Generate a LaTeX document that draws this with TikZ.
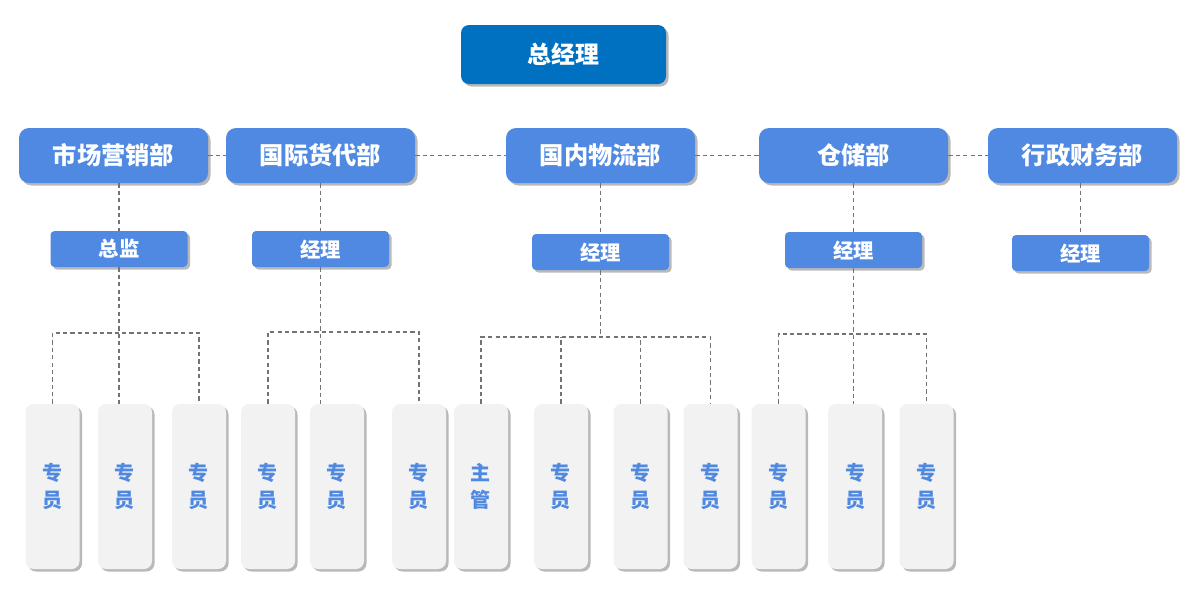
\documentclass[tikz,border=0pt]{standalone}
\usepackage{fontspec}
\usepackage{xcolor}
\usetikzlibrary{shadows}
\newfontfamily\cjk{Noto Sans CJK SC}
\definecolor{bossblue}{RGB}{0,112,192}
\definecolor{deptblue}{RGB}{80,137,225}
\definecolor{staffgray}{RGB}{242,242,242}

\begin{document}
\begin{tikzpicture}[
  shade/.style={drop shadow={shadow xshift=0.05cm, shadow yshift=-0.05cm, fill=black!50, opacity=0.55}},
  boss/.style={rectangle, rounded corners=0.16cm, fill=bossblue, text=white, minimum width=4.1cm, minimum height=1.18cm, font=\cjk\bfseries\fontsize{13.6}{16}\selectfont, shade},
  dept/.style={rectangle, rounded corners=0.2cm, fill=deptblue, text=white, minimum width=3.78cm, minimum height=1.1cm, font=\cjk\bfseries\fontsize{13.8}{16}\selectfont, shade},
  head/.style={rectangle, rounded corners=0.08cm, fill=deptblue, text=white, minimum width=2.74cm, minimum height=0.72cm, font=\cjk\bfseries\fontsize{11.6}{14}\selectfont, shade},
  staff/.style={rectangle, rounded corners=0.16cm, fill=staffgray, text=deptblue, minimum width=1.08cm, minimum height=3.3cm, align=center, font=\cjk\bfseries\fontsize{11.4}{15.4}\selectfont, shade},
  link/.style={draw=black!55, line width=0.6pt, dash pattern=on 2.4pt off 1.8pt}
]
\useasboundingbox (0,0) rectangle (24,-12);

\node[boss] (gm) at (11.27,-1.09) {总经理};

\node[dept] (d1) at (2.27,-3.11) {市场营销部};
\node[dept] (d2) at (6.41,-3.11) {国际货代部};
\node[dept] (d3) at (12.01,-3.11) {国内物流部};
\node[dept] (d4) at (17.07,-3.11) {仓储部};
\node[dept] (d5) at (21.65,-3.11) {行政财务部};

\node[head] (m1) at (2.38,-4.98) {总监};
\node[head] (m2) at (6.41,-4.98) {经理};
\node[head] (m3) at (12.01,-5.04) {经理};
\node[head] (m4) at (17.07,-5.00) {经理};
\node[head] (m5) at (21.61,-5.06) {经理};

\node[staff] (s1) at (1.05,-9.73) {专\\员};
\node[staff] (s2) at (2.50,-9.73) {专\\员};
\node[staff] (s3) at (3.98,-9.73) {专\\员};
\node[staff] (s4) at (5.36,-9.73) {专\\员};
\node[staff] (s5) at (6.74,-9.73) {专\\员};
\node[staff] (s6) at (8.38,-9.73) {专\\员};
\node[staff] (s7) at (9.62,-9.73) {主\\管};
\node[staff] (s8) at (11.22,-9.73) {专\\员};
\node[staff] (s9) at (12.81,-9.73) {专\\员};
\node[staff] (s10) at (14.21,-9.73) {专\\员};
\node[staff] (s11) at (15.57,-9.73) {专\\员};
\node[staff] (s12) at (17.10,-9.73) {专\\员};
\node[staff] (s13) at (18.53,-9.73) {专\\员};

\coordinate (bus1) at (0,-6.66);
\coordinate (bus2) at (0,-6.64);
\coordinate (bus3) at (0,-6.74);
\coordinate (bus4) at (0,-6.68);

\draw[link] (d1) -- (d2);
\draw[link] (d2) -- (d3);
\draw[link] (d3) -- (d4);
\draw[link] (d4) -- (d5);

\draw[link] (m1 |- d1.south) -- (m1);
\draw[link] (d2) -- (m2);
\draw[link] (d3) -- (m3);
\draw[link] (d4) -- (m4);
\draw[link] (m5 |- d5.south) -- (m5);

\draw[link] (m1) -- (m1 |- s2.north);
\draw[link] (s1.north) -- (s1.north |- bus1) -- (s3.north |- bus1) -- (s3.north);

\draw[link] (m2) -- (m2 |- s5.north);
\draw[link] (s4.north) -- (s4.north |- bus2) -- (s6.north |- bus2) -- (s6.north);

\draw[link] (m3) -- (m3 |- bus3);
\draw[link] (s7.north) -- (s7.north |- bus3) -- (s10.north |- bus3) -- (s10.north);
\draw[link] (s8.north) -- (s8.north |- bus3);
\draw[link] (s9.north) -- (s9.north |- bus3);

\draw[link] (m4) -- (m4 |- s12.north);
\draw[link] (s11.north) -- (s11.north |- bus4) -- (s13.north |- bus4) -- (s13.north);
\end{tikzpicture}
\end{document}
